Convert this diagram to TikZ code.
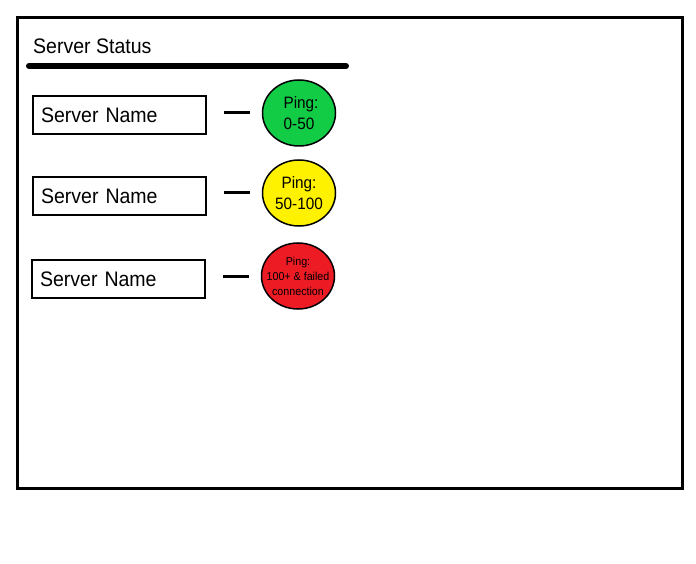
\documentclass[tikz,border=0pt]{standalone}
\usepackage{fontspec}
\setmainfont{Liberation Sans}[FakeStretch=0.93]
\usetikzlibrary{shapes.geometric}

\definecolor{pinggood}{RGB}{18,204,70}
\definecolor{pingmid}{RGB}{255,242,0}
\definecolor{pingbad}{RGB}{237,28,36}

\tikzset{
    namebox/.style={draw, line width=2pt, minimum width=173pt, minimum height=38pt,
        inner xsep=8pt, inner ysep=0pt, anchor=west, text width=157pt, align=left,
        font=\fontsize{21}{24}\selectfont},
    pingdot/.style={ellipse, draw, line width=1.5pt, minimum width=73pt,
        minimum height=66pt, inner sep=0pt, align=center,
        font=\fontsize{16.5}{21}\selectfont},
    link/.style={line width=3pt, shorten <=17pt, shorten >=12pt}
}

\begin{document}
\begin{tikzpicture}[x=1pt, y=-1pt]
    \useasboundingbox (0,0) rectangle (696,564);

    % Draw frame and title
    \draw[line width=3pt] (17,18) rectangle (682,488);
    \node[anchor=west, inner sep=0pt, font=\fontsize{21}{24}\selectfont] (title) at (33,46) {Server Status};
    \coordinate (ruleL) at (29,66);
    \coordinate (ruleR) at (346,66);
    \draw[line width=6pt, line cap=round] (ruleL) -- (ruleR);

    % Draw nodes
    \node[namebox] (name1) at (32,115) {Server Name};
    \node[namebox] (name2) at (32,196) {Server Name};
    \node[namebox] (name3) at (31,279) {Server Name};

    \node[pingdot, fill=pinggood] (ping1) at (299,113) {\hspace*{4pt}Ping:\\0-50};
    \node[pingdot, fill=pingmid] (ping2) at (299,193) {Ping:\\50-100};
    \node[pingdot, fill=pingbad, inner xsep=-12pt, font=\fontsize{11.5}{15}\selectfont] (ping3) at (298,276) {Ping:\\100+ \& failed\\connection};

    % Draw edges
    \draw[link] (name1.east |- ping1) -- (ping1.west);
    \draw[link] (name2.east |- ping2) -- (ping2.west);
    \draw[link] (name3.east |- ping3) -- (ping3.west);
\end{tikzpicture}
\end{document}
